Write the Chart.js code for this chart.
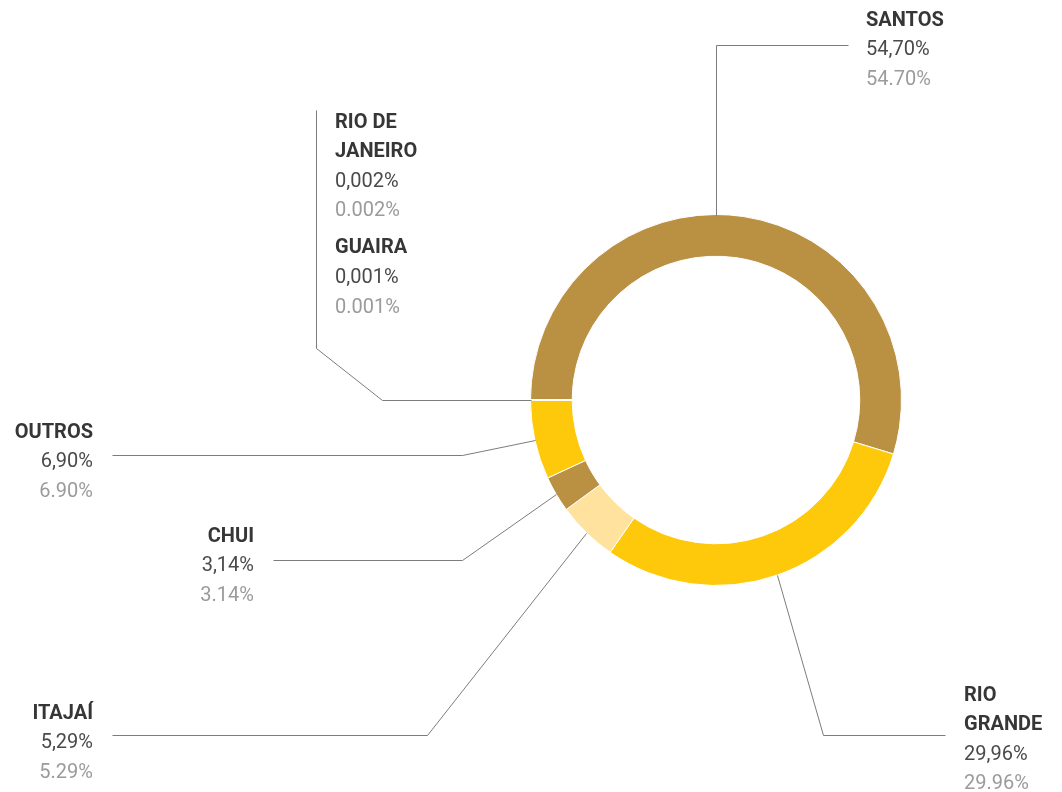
<!DOCTYPE html>
<html>
<head>
<meta charset="utf-8">
<script src="https://cdn.jsdelivr.net/npm/chart.js@4/dist/chart.umd.min.js"></script>
<style>
  html, body { margin: 0; padding: 0; background: #fff; }
  #wrap { width: 1062px; height: 792px; }
</style>
</head>
<body>
<div id="wrap"><canvas id="ports"></canvas></div>
<script>
  // share of each port, in percent
  const ports = ['SANTOS', ['RIO', 'GRANDE'], 'ITAJAÍ', 'CHUI', 'OUTROS', ['RIO DE', 'JANEIRO'], 'GUAIRA'];
  const shares = [54.70, 29.96, 5.29, 3.14, 6.90, 0.002, 0.001];
  const sliceColors = ['#ba9043', '#ffc90b', '#ffe29d', '#ba9043', '#ffc90b', '#ba9043', '#ffc90b'];

  // leader lines: anchor on the ring, then elbow points (null = keep previous coord)
  const leaders = [
    { index: 0, angle: 0, path: [[null, 45], [848, 45]] },
    { index: 1, path: [[823, 735], [945, 735]] },
    { index: 2, path: [[427, 735], [112, 735]] },
    { index: 3, path: [[462, 560], [273, 560]] },
    { index: 4, path: [[462, 455], [112, 455]] },
    { index: 5, angle: 270, path: [[382, null], [316, 348], [316, 110]] }
  ];

  // text blocks
  const blocks = [
    { items: [0], x: 866, align: 'left', top: 18 },
    { items: [1], x: 964, align: 'left', top: 693 },
    { items: [2], x: 93, align: 'right', top: 711 },
    { items: [3], x: 254, align: 'right', top: 534 },
    { items: [4], x: 93, align: 'right', top: 430 },
    { items: [5, 6], x: 335, align: 'left', top: 120 }
  ];
  const lineStep = 29.6;
  const itemGap = 7.5;
  const baseShift = 2.5;

  function fmt(v, sep) {
    const d = v < 0.01 ? 3 : 2;
    return v.toFixed(d).replace('.', sep) + '%';
  }

  const labelPlugin = {
    id: 'portLabels',
    afterDraw(chart) {
      const ctx = chart.ctx;
      const meta = chart.getDatasetMeta(0);
      ctx.save();
      ctx.strokeStyle = '#7c7c7c';
      ctx.lineWidth = 1;
      leaders.forEach(function (l) {
        const p = meta.data[l.index].getProps(['x', 'y', 'startAngle', 'endAngle', 'outerRadius'], true);
        const a = l.angle != null ? (l.angle - 90) * Math.PI / 180 : (p.startAngle + p.endAngle) / 2;
        let cx = Math.round(p.x + Math.cos(a) * p.outerRadius) + 0.5;
        let cy = Math.round(p.y + Math.sin(a) * p.outerRadius) + 0.5;
        ctx.beginPath();
        ctx.moveTo(cx, cy);
        l.path.forEach(function (pt) {
          cx = pt[0] == null ? cx : pt[0] + 0.5;
          cy = pt[1] == null ? cy : pt[1] + 0.5;
          ctx.lineTo(cx, cy);
        });
        ctx.stroke();
      });

      ctx.textBaseline = 'middle';
      blocks.forEach(function (b) {
        ctx.textAlign = b.align;
        let y = b.top + baseShift;
        b.items.forEach(function (i, k) {
          if (k > 0) y += itemGap;
          const name = [].concat(ports[i]);
          ctx.font = 'bold 20px Roboto, sans-serif';
          ctx.fillStyle = '#363636';
          name.forEach(function (t) { ctx.fillText(t, b.x, y); y += lineStep; });
          ctx.font = '20px Roboto, sans-serif';
          ctx.fillStyle = '#4a4a4a';
          ctx.fillText(fmt(shares[i], ','), b.x, y); y += lineStep;
          ctx.fillStyle = '#9b9b9b';
          ctx.fillText(fmt(shares[i], '.'), b.x, y); y += lineStep;
        });
      });
      ctx.restore();
    }
  };

  new Chart(document.getElementById('ports'), {
    type: 'doughnut',
    data: {
      labels: ports,
      datasets: [{
        data: shares,
        backgroundColor: sliceColors,
        borderColor: '#ffffff',
        borderWidth: 1
      }]
    },
    options: {
      responsive: true,
      maintainAspectRatio: false,
      animation: false,
      rotation: -90,
      cutout: '77.5%',
      layout: { padding: { left: 530, right: 160, top: 214, bottom: 206 } },
      plugins: {
        legend: { display: false },
        tooltip: { enabled: false }
      }
    },
    plugins: [labelPlugin]
  });
</script>
</body>
</html>
